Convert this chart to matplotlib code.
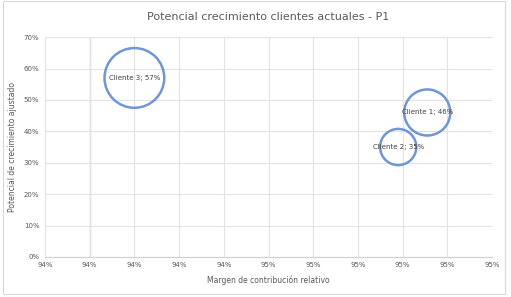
import math
import matplotlib.pyplot as plt
from matplotlib.ticker import FixedLocator, FuncFormatter

# datos de los clientes
clientes = ["Cliente 1", "Cliente 2", "Cliente 3"]
margen = [0.94855, 0.94790, 0.94200]
crecimiento = [0.46, 0.35, 0.57]
volumen = [1100, 680, 1850]

x_ticks = [0.940 + 0.001 * i for i in range(11)]
y_ticks = [0.1 * i for i in range(8)]

gris_texto = "#595959"
azul = "#7096D4"


def pct(v, pos=None):
    # redondeo tipo Excel (mitad hacia arriba)
    return f"{math.floor(v * 100 + 0.5 + 1e-9)}%"


fig = plt.figure(figsize=(5.11, 2.97), dpi=100)
ax = fig.add_axes([0.088, 0.135, 0.875, 0.74])

# borde exterior del gráfico
fig.patches.append(plt.Rectangle((0.006, 0.01), 0.982, 0.985, transform=fig.transFigure,
                                 fill=False, edgecolor="#D9D9D9", linewidth=0.8))

ax.scatter(margen, crecimiento, s=volumen, facecolors="none", edgecolors=azul,
           linewidths=1.8, zorder=3)
for nombre, x, y in zip(clientes, margen, crecimiento):
    ax.text(x, y, f"{nombre}; {pct(y)}", ha="center", va="center", fontsize=5,
            color="#404040", zorder=4)

ax.set_xlim(0.940, 0.950)
ax.set_ylim(0, 0.7)
ax.xaxis.set_major_locator(FixedLocator(x_ticks))
ax.yaxis.set_major_locator(FixedLocator(y_ticks))
ax.xaxis.set_major_formatter(FuncFormatter(pct))
ax.yaxis.set_major_formatter(FuncFormatter(pct))
ax.grid(True, color="#E3E3E3", linewidth=0.8, zorder=0)
ax.axvline(0.941, color="#B0B0B0", linewidth=0.9, zorder=1)

for lado in ["top", "right", "left"]:
    ax.spines[lado].set_visible(False)
ax.spines["bottom"].set_color("#D0D0D0")
ax.tick_params(length=0, labelsize=5, colors=gris_texto, pad=4)

ax.set_title("Potencial crecimiento clientes actuales - P1", fontsize=8,
             color=gris_texto, pad=12)
ax.set_xlabel("Margen de contribución relativo", fontsize=5.5, color=gris_texto, labelpad=5)
ax.set_ylabel("Potencial de crecimiento ajustado", fontsize=5.5, color=gris_texto, labelpad=5)

fig.savefig("out.png", dpi=100)
